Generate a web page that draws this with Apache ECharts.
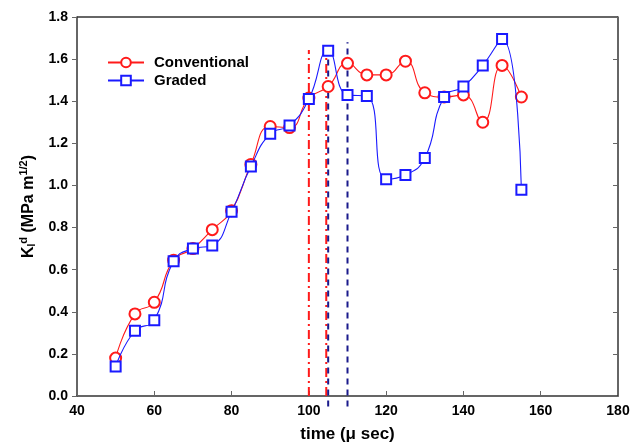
<!DOCTYPE html>
<html><head><meta charset="utf-8">
<script src="https://cdn.jsdelivr.net/npm/echarts@6/dist/echarts.min.js"></script>
<style>html,body{margin:0;padding:0;background:#fff}#c{width:640px;height:444px}</style>
</head><body><div id="c"></div>
<script>
const times = [50,55,60,65,70,75,80,85,90,95,100,105,110,115,120,125,130,135,140,145,150,155];
const conventional = [0.18,0.39,0.445,0.645,0.70,0.79,0.88,1.10,1.28,1.275,1.415,1.47,1.58,1.525,1.525,1.59,1.44,1.42,1.43,1.30,1.57,1.42];
const graded = [0.14,0.31,0.36,0.64,0.70,0.715,0.875,1.09,1.245,1.285,1.41,1.64,1.43,1.425,1.03,1.05,1.13,1.42,1.47,1.57,1.695,0.98];
const redLines = [[100, 0, 1.643],[104.5, 0, 1.65]];
const navyLines = [[105, -0.05, 1.667],[110, -0.05, 1.68]];
const xTicks = [40,60,80,100,120,140,160,180];
const yTicks = [0,0.2,0.4,0.6,0.8,1.0,1.2,1.4,1.6,1.8];

const pair = (xs, ys) => xs.map((x,i)=>[x, ys[i]]);
const font = 'Liberation Sans, Arial, Helvetica, sans-serif';
const vSeries = [];
redLines.forEach(l => vSeries.push({type:'line', data:[[l[0],l[1]],[l[0],l[2]]], symbol:'none', clip:false, silent:true,
  lineStyle:{color:'#ff1a1a', width:2, type:[9,4,2,4]}, z:1}));
navyLines.forEach(l => vSeries.push({type:'line', data:[[l[0],l[1]],[l[0],l[2]]], symbol:'none', clip:false, silent:true,
  lineStyle:{color:'#1a1a8c', width:2, type:[6,5]}, z:1}));

const chart = echarts.init(document.getElementById('c'), null, {renderer:'canvas'});
chart.setOption({
  animation:false,
  grid:{left:77, right:22, top:17, bottom:48, show:false, containLabel:false, outerBoundsMode:'none'},
  legend:{
    left:107, top:55, orient:'vertical', itemWidth:36, itemHeight:12, itemGap:3, padding:0,
    data:['Conventional','Graded'],
    textStyle:{fontFamily:font, fontWeight:'bold', fontSize:15, color:'#000', padding:[0,0,0,5]}
  },
  xAxis:{
    type:'value', min:40, max:180, interval:20,
    name:'time (μ sec)', nameLocation:'middle', nameGap:30,
    nameTextStyle:{fontFamily:font, fontWeight:'bold', fontSize:17, color:'#000'},
    axisLine:{show:true, onZero:false, lineStyle:{color:'#333', width:1.5}},
    axisTick:{inside:true, length:5, lineStyle:{color:'#666'}},
    axisLabel:{fontFamily:font, fontWeight:'bold', fontSize:14, color:'#000', margin:8,
      formatter: v => xTicks.includes(v) ? String(v) : ''},
    splitLine:{show:false}
  },
  yAxis:[{
    type:'value', min:0, max:1.8, interval:0.2,
    name:'{b|K}{sub|I}{sup|d}{b| (MPa m}{sup|1/2}{b|)}',
    nameLocation:'middle', nameGap:37, nameRotate:90,
    nameTextStyle:{fontFamily:font, fontWeight:'bold', fontSize:16, color:'#000',
      rich:{
        b:{fontFamily:font, fontWeight:'bold', fontSize:16, color:'#000'},
        sub:{fontFamily:font, fontWeight:'bold', fontSize:10, color:'#000', padding:[8,0,0,0]},
        sup:{fontFamily:font, fontWeight:'bold', fontSize:11, color:'#000', padding:[0,0,10,0]}
      }},
    axisLine:{show:true, onZero:false, lineStyle:{color:'#333', width:1.5}},
    axisTick:{inside:false, length:5, lineStyle:{color:'#666'}},
    axisLabel:{fontFamily:font, fontWeight:'bold', fontSize:14, color:'#000', margin:9,
      formatter: v => { const t = yTicks.find(y=>Math.abs(y-v)<1e-6); return t===undefined?'':(t===0?'0.0':t.toFixed(1)); }},
    splitLine:{show:false}
  },{
    type:'value', min:0, max:1.8, interval:0.2, position:'right',
    axisLine:{show:true, onZero:false, lineStyle:{color:'#333', width:1.5}},
    axisTick:{inside:true, length:5, lineStyle:{color:'#666'}},
    axisLabel:{show:false}, splitLine:{show:false}
  }],
  graphic:[{type:'line', shape:{x1:77, y1:17, x2:618, y2:17}, style:{stroke:'#333', lineWidth:1.5}, silent:true}],
  series:[
    ...vSeries,
    {name:'Conventional', type:'line', data:pair(times, conventional), smooth:0.5,
      symbol:'emptyCircle', symbolSize:11, color:'#ff1a1a',
      lineStyle:{color:'#ff1a1a', width:1.1}, itemStyle:{color:'#ff1a1a', borderWidth:1}, z:3},
    {name:'Graded', type:'line', data:pair(times, graded), smooth:0.5,
      symbol:'emptyRect', symbolSize:10, color:'#1a1aff',
      lineStyle:{color:'#1a1aff', width:1.1}, itemStyle:{color:'#1a1aff', borderWidth:1}, z:4}
  ]
});
</script></body></html>
